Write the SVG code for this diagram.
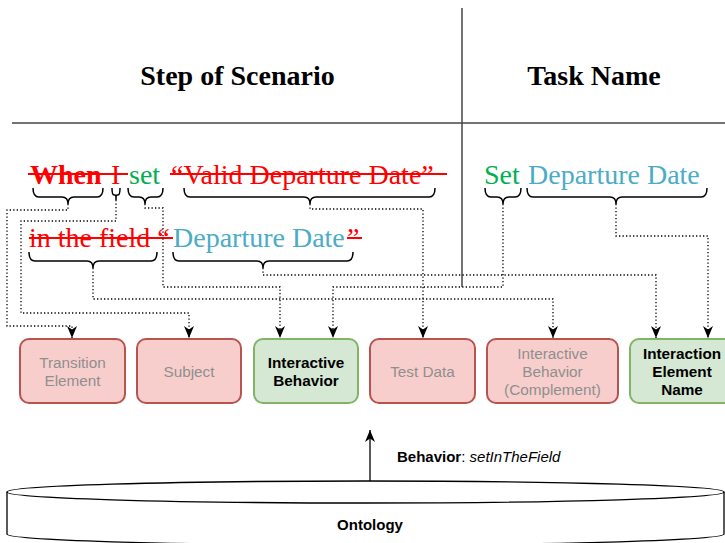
<svg xmlns="http://www.w3.org/2000/svg" width="725" height="543" viewBox="0 0 725 543">
<style>
.title{font-family:"Liberation Serif","Times New Roman",serif;font-weight:bold;font-size:28px;fill:#000}
.sc{font-family:"Liberation Serif","Times New Roman",serif;font-size:28px}
.r{fill:#ff0000}.g{fill:#00b050}.b{fill:#4bacc6}
.strike{stroke:#ff0000;stroke-width:2}
.brace{fill:none;stroke:#000;stroke-width:1.5}
.conn{fill:none;stroke:#000;stroke-width:1.3;stroke-dasharray:1.3 2.2}
.boxR{fill:#f8cecc;stroke:#b85450;stroke-width:2}
.boxG{fill:#d5e8d4;stroke:#82b366;stroke-width:2}
.lbl{font-family:"Liberation Sans",Arial,sans-serif;font-size:15.3px;text-anchor:middle}
.lg{fill:#8f8f8f}
.lb{fill:#000;font-weight:bold}
.sans{font-family:"Liberation Sans",Arial,sans-serif;font-size:15px;fill:#000}
</style>
<defs>
<marker id="arr" markerUnits="userSpaceOnUse" markerWidth="12" markerHeight="12" viewBox="0 0 12 12" refX="12" refY="6" orient="auto">
<path d="M0,1 L12,6 L0,11 L3.5,6 Z" fill="#000" stroke="none"/>
</marker>
</defs>
<g id="header">
<line x1="12" y1="123" x2="725" y2="123" stroke="#444" stroke-width="1.5"/>
<line x1="462" y1="8" x2="462" y2="287" stroke="#444" stroke-width="1.5"/>
<text class="title" x="237.5" y="85" text-anchor="middle">Step of Scenario</text>
<text class="title" x="594" y="85" text-anchor="middle">Task Name</text>
</g>
<g id="scenario-text">
<text class="sc r" x="30" y="184" font-weight="bold">When</text>
<text class="sc r" x="111" y="184">I</text>
<text class="sc g" x="129" y="184">set</text>
<text class="sc r" x="171" y="184">“Valid Departure Date”</text>
<line class="strike" x1="28" y1="174" x2="128" y2="174"/>
<line class="strike" x1="170" y1="174" x2="447" y2="174"/>
<text class="sc r" x="29" y="247">in the field “</text>
<text class="sc b" x="173" y="247">Departure Date</text>
<text class="sc r" x="347" y="247">”</text>
<line class="strike" x1="29" y1="238" x2="173" y2="238"/>
<line class="strike" x1="347" y1="238" x2="362" y2="238"/>
</g>
<g id="task-text">
<text class="sc g" x="484" y="184">Set</text>
<text class="sc b" x="528" y="184">Departure Date</text>
</g>
<g id="braces">
<path class="brace" d="M33,188 Q33,197 39,197 L62,197 Q68,197 68,204 Q68,197 74,197 L97,197 Q103,197 103,188"/>
<path class="brace" d="M112,188 Q112,195 114,195 L115,195 Q116,195 116,200 Q116,195 117,195 L118,195 Q120,195 120,188"/>
<path class="brace" d="M128,188 Q128,197 134,197 L139,197 Q145,197 145,204 Q145,197 151,197 L157,197 Q163,197 163,188"/>
<path class="brace" d="M184,188 Q184,197 190,197 L304,197 Q310,197 310,204 Q310,197 316,197 L429,197 Q435,197 435,188"/>
<path class="brace" d="M29,252 Q29,261 35,261 L87,261 Q93,261 93,268 Q93,261 99,261 L151,261 Q157,261 157,252"/>
<path class="brace" d="M173,252 Q173,261 179,261 L257,261 Q263,261 263,268 Q263,261 269,261 L347,261 Q353,261 353,252"/>
<path class="brace" d="M485,188 Q485,197 491,197 L497,197 Q503,197 503,204 Q503,197 509,197 L515,197 Q521,197 521,188"/>
<path class="brace" d="M527,188 Q527,197 533,197 L610,197 Q616,197 616,204 Q616,197 622,197 L701,197 Q707,197 707,188"/>
</g>
<g id="connectors">
<path class="conn" d="M68,204 V210 H7 V326 H72 V338" marker-end="url(#arr)"/>
<path class="conn" d="M116,200 V221 H21 V313 H189 V338" marker-end="url(#arr)"/>
<path class="conn" d="M145,204 V208 H163 V287 H280 V338" marker-end="url(#arr)"/>
<path class="conn" d="M310,204 V209 H423 V338" marker-end="url(#arr)"/>
<path class="conn" d="M93,268 V299 H553 V338" marker-end="url(#arr)"/>
<path class="conn" d="M263,268 V275 H656 V338" marker-end="url(#arr)"/>
<path class="conn" d="M503,204 V287 H333 V338" marker-end="url(#arr)"/>
<path class="conn" d="M616,204 V236 H708 V338" marker-end="url(#arr)"/>
</g>
<g id="transition-element">
<rect class="boxR" x="20" y="339" width="105" height="64" rx="9"/>
<text class="lbl lg" x="72.5" y="368">Transition</text>
<text class="lbl lg" x="72.5" y="386">Element</text>
</g>
<g id="subject">
<rect class="boxR" x="137" y="339" width="104" height="64" rx="9"/>
<text class="lbl lg" x="189" y="377">Subject</text>
</g>
<g id="interactive-behavior">
<rect class="boxG" x="254" y="339" width="104" height="64" rx="9"/>
<text class="lbl lb" x="306" y="368">Interactive</text>
<text class="lbl lb" x="306" y="386">Behavior</text>
</g>
<g id="test-data">
<rect class="boxR" x="370" y="339" width="105" height="64" rx="9"/>
<text class="lbl lg" x="422.5" y="377">Test Data</text>
</g>
<g id="interactive-behavior-complement">
<rect class="boxR" x="487" y="339" width="131" height="64" rx="9"/>
<text class="lbl lg" x="552.5" y="359">Interactive</text>
<text class="lbl lg" x="552.5" y="377">Behavior</text>
<text class="lbl lg" x="552.5" y="395">(Complement)</text>
</g>
<g id="interaction-element-name">
<rect class="boxG" x="630" y="339" width="105" height="64" rx="9"/>
<text class="lbl lb" x="682" y="359">Interaction</text>
<text class="lbl lb" x="682" y="377">Element</text>
<text class="lbl lb" x="682" y="395">Name</text>
</g>
<g id="ontology">
<path d="M7,492 A358.5,11 0 0 1 724,492 L724,534 A358.5,11 0 0 1 7,534 Z" fill="#fff" stroke="#000" stroke-width="1.3"/>
<path d="M7,492 A358.5,11 0 0 0 724,492" fill="none" stroke="#000" stroke-width="1.3"/>
<text class="sans" x="370" y="530" text-anchor="middle" font-weight="bold">Ontology</text>
</g>
<g id="behavior-link">
<line x1="370" y1="481" x2="370" y2="430" stroke="#000" stroke-width="1.3" marker-end="url(#arr)"/>
<text class="sans" x="397" y="462" font-size="15.5"><tspan font-weight="bold">Behavior</tspan>: <tspan font-style="italic">setInTheField</tspan></text>
</g>
</svg>
